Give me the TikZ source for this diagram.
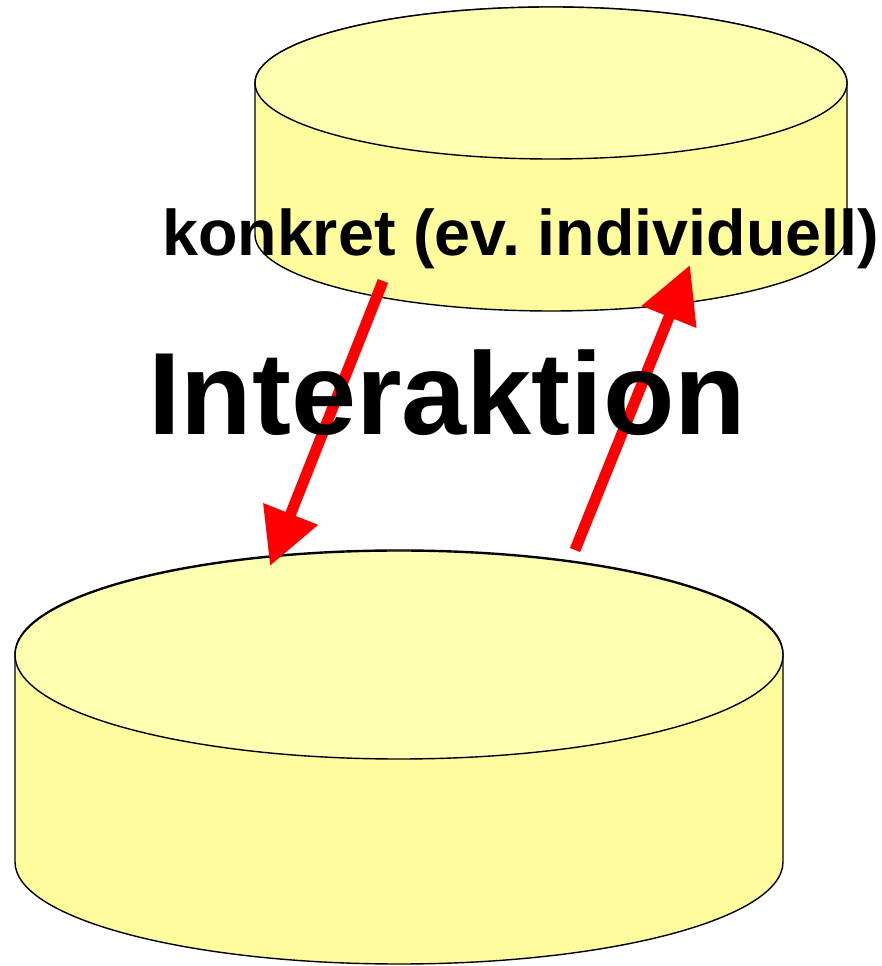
\documentclass[tikz,border=0pt]{standalone}
\usepackage{fontspec}
\setmainfont{Liberation Sans}
\usetikzlibrary{arrows.meta}
\definecolor{cylbody}{RGB}{255,252,158}
\definecolor{cyltop}{RGB}{255,255,178}
\definecolor{arrowred}{RGB}{255,0,0}
\tikzset{
  cylout/.style={draw=black,line width=1.4pt},
  redarrow/.style={draw=arrowred,line width=11pt,-{Triangle[length=56pt,width=56pt]}},
  label/.style={inner sep=0pt,anchor=base west,font=\bfseries}
}
\frenchspacing
\begin{document}
\begin{tikzpicture}[x=1pt,y=1pt]
\useasboundingbox (0,0) rectangle (881,966);
% top cylinder
\path[cylout,fill=cylbody] (255,883) -- (255,731) arc[start angle=180,end angle=360,x radius=296pt,y radius=76pt] -- (847,883) arc[start angle=0,end angle=180,x radius=296pt,y radius=76pt] -- cycle;
\path[cylout,fill=cyltop] (551,883) ellipse[x radius=296pt,y radius=76pt];
% bottom cylinder
\path[cylout,fill=cylbody] (15,312) -- (15,104) arc[start angle=180,end angle=360,x radius=384pt,y radius=102pt] -- (783,312) arc[start angle=0,end angle=180,x radius=384pt,y radius=104pt] -- cycle;
\path[cylout,fill=cyltop] (399,311) ellipse[x radius=384pt,y radius=104pt];
% arrow endpoints
\coordinate (a1s) at (383,685);
\coordinate (a1e) at (270,400);
\coordinate (a2s) at (575,416);
\coordinate (a2e) at (690,701);
\draw[redarrow] (a1s) -- (a1e);
\draw[redarrow] (a2s) -- (a2e);
% texts
\node[label,font=\bfseries\fontsize{64.6}{70}\selectfont] (konkret) at (162,710) {konkret (ev. individuell)};
\node[label,font=\bfseries\fontsize{117}{126}\selectfont] (inter) at (148,531) {Interaktion};
\end{tikzpicture}
\end{document}
